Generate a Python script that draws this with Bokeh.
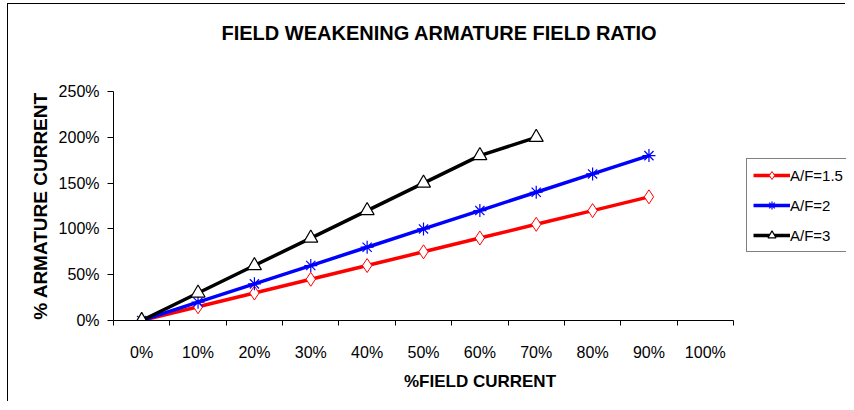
from bokeh.plotting import figure
from bokeh.models import (FixedTicker, NumeralTickFormatter, Legend, LegendItem,
                          Range1d)
from bokeh.embed import file_html
from bokeh.resources import INLINE

# ---- data ----
field_ticks = [0, 10, 20, 30, 40, 50, 60, 70, 80, 90, 100]   # % field current categories
af15_x = [0, 10, 20, 30, 40, 50, 60, 70, 80, 90]
af15_y = [0, 15, 30, 45, 60, 75, 90, 105, 120, 135]
af2_x = [0, 10, 20, 30, 40, 50, 60, 70, 80, 90]
af2_y = [0, 20, 40, 60, 80, 100, 120, 140, 160, 180]
af3_x = [0, 10, 20, 30, 40, 50, 60, 70]
af3_y = [0, 30, 60, 90, 120, 150, 180, 200]
y_ticks = [0, 50, 100, 150, 200, 250]

FONT = "Liberation Sans"
INK = "black"

def frac(v):
    return [a / 100.0 for a in v]

# axis spans -0.05..1.05 over 620 px; frame continues to the canvas edge for the legend
W, H = 838, 398
LEFT, TOP, BOTTOM = 105, 87, 82
AX_LO, AX_HI = -0.05, 1.05
px_per_unit = 620 / (AX_HI - AX_LO)
frame_w = W - LEFT
p = figure(width=W, height=H, output_backend="svg", toolbar_location=None,
           x_range=Range1d(AX_LO, AX_LO + frame_w / px_per_unit),
           y_range=Range1d(0, 2.5),
           min_border_left=LEFT, min_border_right=0, min_border_top=TOP,
           min_border_bottom=BOTTOM)
# outer chart-area frame (left and top edges visible in the reference)
p.styles = {"border-left": "1px solid black", "border-top": "1px solid black",
            "margin-left": "7px", "margin-top": "3px"}

p.title.text = "FIELD WEAKENING ARMATURE FIELD RATIO"
p.title.text_font = FONT
p.title.text_font_size = "20px"
p.title.text_font_style = "bold"
p.title.text_color = INK
p.title.align = "left"
p.title.offset = 108
p.title.standoff = 10
p.title.padding = (0, 0, 0, 43)

p.grid.visible = False
p.outline_line_color = None
p.background_fill_color = "white"
p.border_fill_color = "white"

# x axis
xa = p.xaxis[0]
xa.bounds = (AX_LO, AX_HI)
xa.ticker = FixedTicker(ticks=frac(field_ticks),
                        minor_ticks=[(t - 5) / 100.0 for t in field_ticks] + [1.05])
xa.formatter = NumeralTickFormatter(format="0%")
xa.major_tick_in = 0
xa.major_tick_out = 0
xa.minor_tick_in = 0
xa.minor_tick_out = 5
xa.minor_tick_line_color = INK
xa.axis_line_color = INK
xa.major_label_text_font = FONT
xa.major_label_text_font_size = "16px"
xa.major_label_text_color = INK
xa.major_label_standoff = 18
xa.axis_label = "%FIELD CURRENT"
xa.axis_label_text_font = FONT
xa.axis_label_text_font_size = "17px"
xa.axis_label_text_font_style = "bold"
xa.axis_label_text_color = INK
xa.axis_label_standoff = 8

# y axis
ya = p.yaxis[0]
ya.ticker = FixedTicker(ticks=frac(y_ticks), minor_ticks=[])
ya.formatter = NumeralTickFormatter(format="0%")
ya.major_tick_in = 0
ya.major_tick_out = 6
ya.major_tick_line_color = INK
ya.axis_line_color = INK
ya.major_label_text_font = FONT
ya.major_label_text_font_size = "16px"
ya.major_label_text_color = INK
ya.major_label_standoff = 8
ya.axis_label = "% ARMATURE CURRENT"
ya.axis_label_text_font = FONT
ya.axis_label_text_font_size = "19px"
ya.axis_label_text_font_style = "bold"
ya.axis_label_text_color = INK
ya.axis_label_standoff = 5

# series
r1l = p.line(frac(af15_x), frac(af15_y), line_color="#FF0000", line_width=3.5)
r1m = p.scatter(frac(af15_x), frac(af15_y), marker="diamond", size=14,
                fill_color="white", line_color="#FF0000", line_width=1)
r2l = p.line(frac(af2_x), frac(af2_y), line_color="#0000FF", line_width=3.5)
r2m = p.scatter(frac(af2_x), frac(af2_y), marker="asterisk", size=13,
                line_color="#0000FF", line_width=1.2)
r3l = p.line(frac(af3_x), frac(af3_y), line_color="black", line_width=3.5)
r3m = p.scatter(frac(af3_x), frac(af3_y), marker="triangle", size=14,
                fill_color="white", line_color="black", line_width=1.2)

legend = Legend(items=[
    LegendItem(label="A/F=1.5", renderers=[r1l, r1m]),
    LegendItem(label="A/F=2", renderers=[r2l, r2m]),
    LegendItem(label="A/F=3", renderers=[r3l, r3m]),
], location=(633, 68))
legend.border_line_color = INK
legend.border_line_width = 1
legend.background_fill_color = "white"
legend.background_fill_alpha = 1
legend.label_text_font = FONT
legend.label_text_font_size = "15px"
legend.label_text_color = INK
legend.glyph_width = 37
legend.glyph_height = 20
legend.label_height = 20
legend.label_standoff = 0
legend.spacing = 10
legend.padding = 6
legend.margin = 0
p.add_layout(legend, "center")

open("out.html", "w").write(file_html(p, INLINE))
